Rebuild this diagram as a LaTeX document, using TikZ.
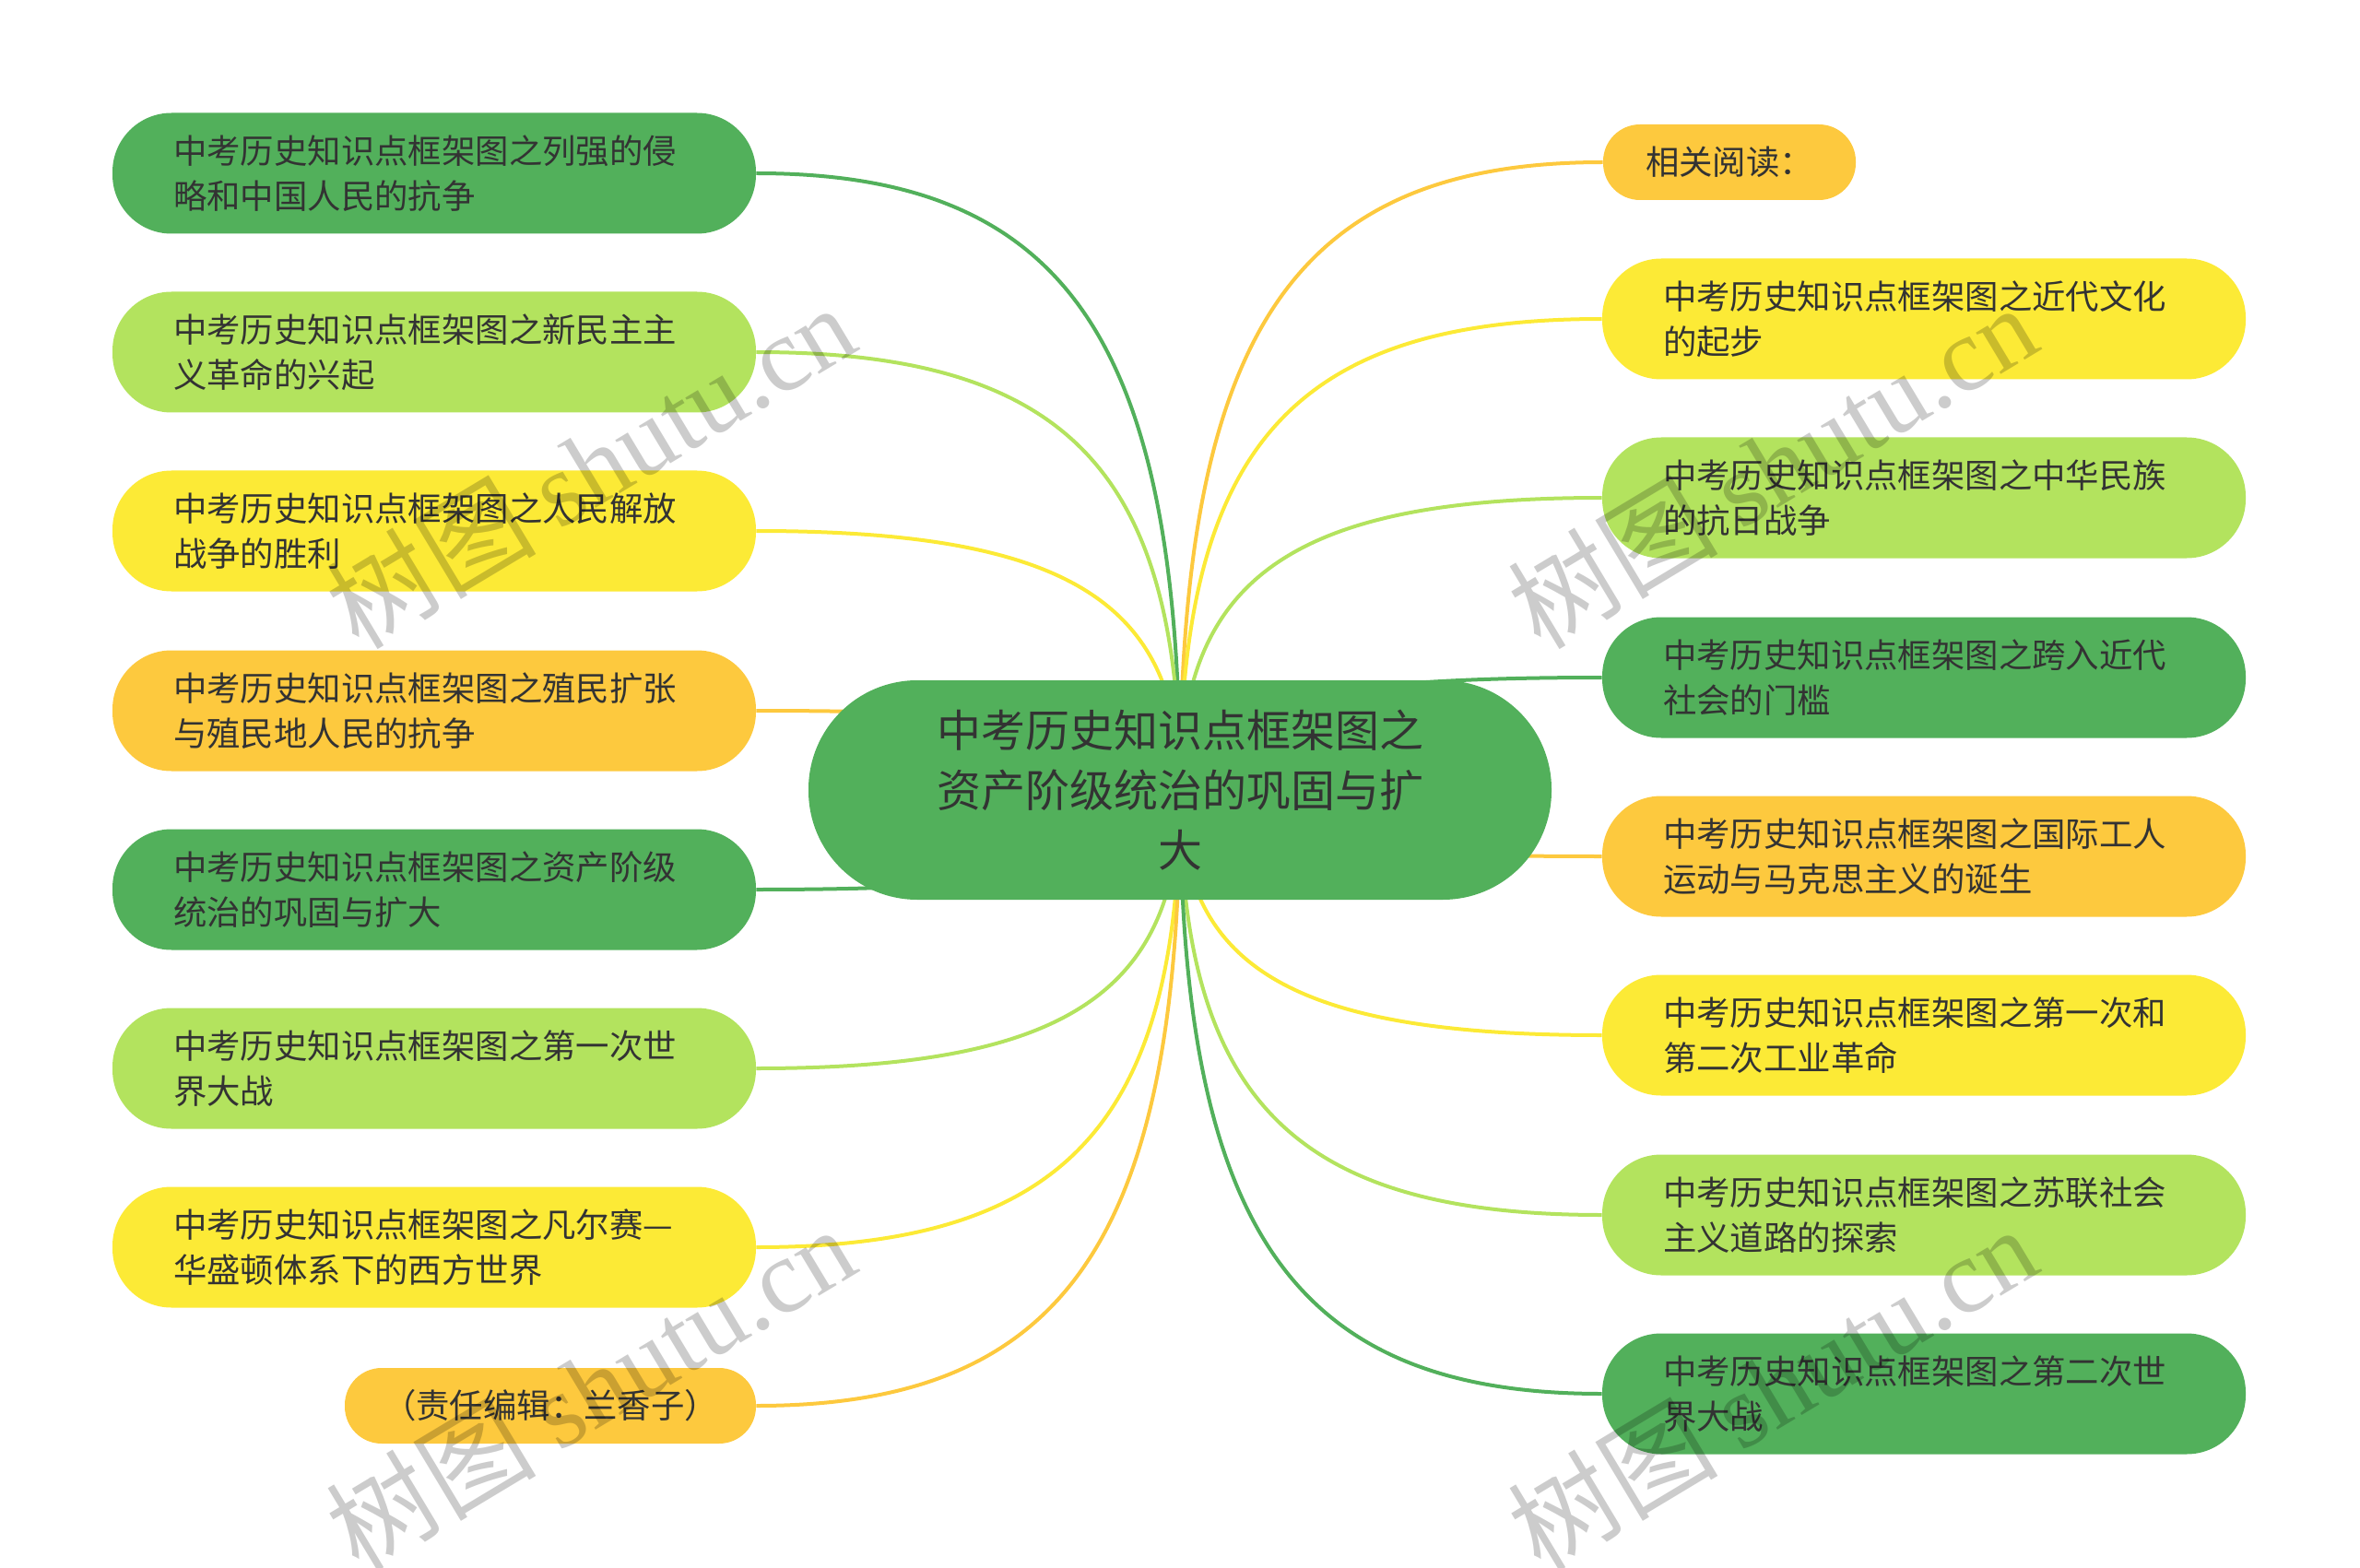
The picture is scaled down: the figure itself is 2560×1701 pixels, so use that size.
\documentclass[tikz,border=0pt]{standalone}
\usepackage{fontspec}
\setmainfont{Noto Sans CJK SC}
\newfontfamily\markfont{Liberation Serif}
\usetikzlibrary{backgrounds,calc}
\definecolor{dkgreen}{HTML}{52B05B}
\definecolor{ltgreen}{HTML}{B3E35E}
\definecolor{yel}{HTML}{FCEA36}
\definecolor{orng}{HTML}{FDC93E}
\definecolor{txt}{HTML}{333333}

\begin{document}
\begin{tikzpicture}[
  x=0.5pt, y=-0.5pt,
  topic/.style={rectangle, rounded corners=32pt, minimum height=65.5pt,
                text width=283pt, inner xsep=33pt, align=left, text=txt,
                font=\fontsize{18.2pt}{24.5pt}\selectfont},
  note/.style={rectangle, rounded corners=20pt, minimum height=41pt,
               inner xsep=0pt, align=center, text=txt,
               font=\fontsize{18.2pt}{24.5pt}\selectfont},
  root/.style={rectangle, rounded corners=59pt, minimum width=403pt,
               minimum height=119pt, align=center, text=txt, fill=dkgreen,
               font=\fontsize{24pt}{32.7pt}\selectfont},
  link/.style={line width=2pt, draw=#1},
  wmark/.style={rotate=31, text=black, text opacity=0.2,
                font=\fontsize{57pt}{60pt}\selectfont}
]
\useasboundingbox (0,0) rectangle (2560,1701);

% central topic
\node[root] (c) at (1280,857) {中考历史知识点框架图之\\资产阶级统治的巩固与扩\\大};

% left branch
\node[topic, fill=dkgreen] (l1) at (471,188) {中考历史知识点框架图之列强的侵\\略和中国人民的抗争};
\node[topic, fill=ltgreen] (l2) at (471,382) {中考历史知识点框架图之新民主主\\义革命的兴起};
\node[topic, fill=yel] (l3) at (471,576) {中考历史知识点框架图之人民解放\\战争的胜利};
\node[topic, fill=orng] (l4) at (471,771) {中考历史知识点框架图之殖民扩张\\与殖民地人民的抗争};
\node[topic, fill=dkgreen] (l5) at (471,965) {中考历史知识点框架图之资产阶级\\统治的巩固与扩大};
\node[topic, fill=ltgreen] (l6) at (471,1159) {中考历史知识点框架图之第一次世\\界大战};
\node[topic, fill=yel] (l7) at (471,1353) {中考历史知识点框架图之凡尔赛—\\华盛顿体系下的西方世界};
\node[note, fill=orng, minimum width=223pt] (l8) at (597,1525) {（责任编辑：兰香子）};

% right branch
\node[note, fill=orng, minimum width=137pt] (r0) at (1876,176) {相关阅读：};
\node[topic, fill=yel] (r1) at (2087,346) {中考历史知识点框架图之近代文化\\的起步};
\node[topic, fill=ltgreen] (r2) at (2087,540) {中考历史知识点框架图之中华民族\\的抗日战争};
\node[topic, fill=dkgreen] (r3) at (2087,735) {中考历史知识点框架图之跨入近代\\社会的门槛};
\node[topic, fill=orng] (r4) at (2087,929) {中考历史知识点框架图之国际工人\\运动与马克思主义的诞生};
\node[topic, fill=yel] (r5) at (2087,1123) {中考历史知识点框架图之第一次和\\第二次工业革命};
\node[topic, fill=ltgreen] (r6) at (2087,1318) {中考历史知识点框架图之苏联社会\\主义道路的探索};
\node[topic, fill=dkgreen] (r7) at (2087,1512) {中考历史知识点框架图之第二次世\\界大战};

% connectors
\begin{scope}[on background layer]
\foreach \n/\col in {l1/dkgreen, l2/ltgreen, l3/yel, l4/orng, l5/dkgreen, l6/ltgreen, l7/yel, l8/orng}
  \draw[link=\col] (c.center) .. controls ($(c.center)!0.73!(c.center |- \n.east)$)
    and ($(\n.east)!0.73!(c.center |- \n.east)$) .. (\n.east);
\foreach \n/\col in {r0/orng, r1/yel, r2/ltgreen, r3/dkgreen, r4/orng, r5/yel, r6/ltgreen, r7/dkgreen}
  \draw[link=\col] (c.center) .. controls ($(c.center)!0.73!(c.center |- \n.west)$)
    and ($(\n.west)!0.73!(c.center |- \n.west)$) .. (\n.west);
\end{scope}

% watermarks
\foreach \p in {(640,505), (640,1505), (1922,505), (1922,1505)}
  \node[wmark] at \p {树图 {\markfont shutu.cn}};
\end{tikzpicture}
\end{document}
